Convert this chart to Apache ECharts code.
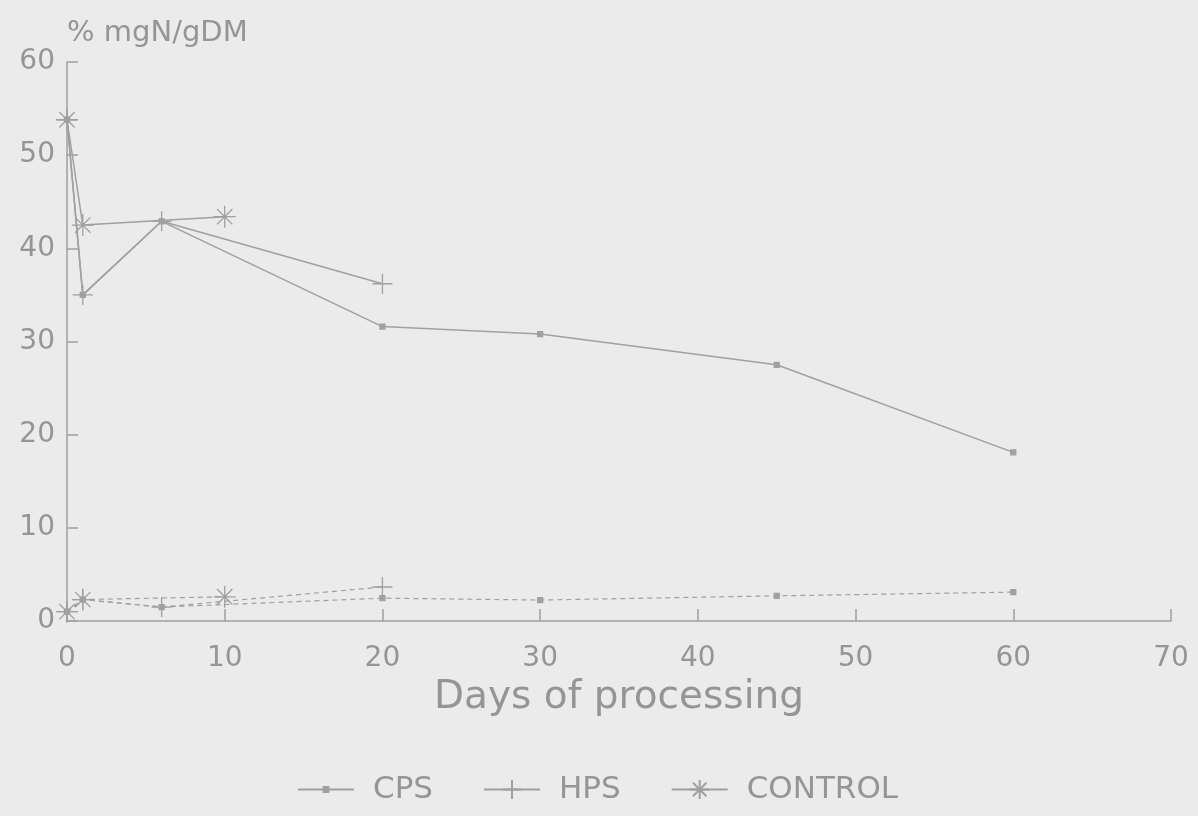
<!DOCTYPE html>
<html>
<head>
<meta charset="utf-8">
<script src="https://cdn.jsdelivr.net/npm/echarts@6/dist/echarts.min.js"></script>
<style>
html,body{margin:0;padding:0;background:#ebebeb;}
#chart{width:1198px;height:816px;}
</style>
</head>
<body>
<div id="chart"></div>
<script>
// ---- data ----
const seriesNames = ['CPS', 'HPS', 'CONTROL'];
const xTicks = [0, 10, 20, 30, 40, 50, 60, 70];
const yTicks = [0, 10, 20, 30, 40, 50, 60];

const daysCPS = [0, 1, 6, 20, 30, 45, 60];
const cpsUpper = [53.8, 35.0, 42.9, 31.6, 30.8, 27.5, 18.1];
const cpsLower = [1.0, 2.3, 1.5, 2.45, 2.25, 2.7, 3.1];

const daysHPS = [0, 1, 6, 20];
const hpsUpper = [53.8, 35.0, 42.9, 36.2];
const hpsLower = [1.0, 2.3, 1.5, 3.65];

const daysControl = [0, 1, 10];
const controlUpper = [53.8, 42.5, 43.4];
const controlLower = [1.0, 2.3, 2.6];

// ---- styles ----
const LINE = '#a0a0a0';
const TEXT = '#959595';
const FONT = 'DejaVu Sans';

const symSquare = 'path://M0,0 M20,20 M7.5,7.5 L12.5,7.5 L12.5,12.5 L7.5,12.5 Z';
const symPlus = 'path://M0,10 L20,10 M10,0 L10,20';
const symStar = 'path://M0,10 L20,10 M10,0 L10,20 M3,3 L17,17 M17,3 L3,17';

function pairs(xs, ys) { return xs.map((x, i) => [x, ys[i]]); }

function mk(name, xs, ys, symbol, size, dashed) {
  return {
    name: name,
    type: 'line',
    data: pairs(xs, ys),
    symbol: symbol,
    symbolSize: size,
    showAllSymbol: true,
    lineStyle: { color: LINE, width: dashed ? 1.2 : 1.5, type: dashed ? [5, 4] : 'solid' },
    itemStyle: { color: LINE, borderColor: LINE, borderWidth: 1.3 },
    emphasis: { disabled: true }
  };
}

const chart = echarts.init(document.getElementById('chart'), null, { renderer: 'canvas' });
chart.setOption({
  animation: false,
  backgroundColor: '#ebebeb',
  textStyle: { fontFamily: FONT },
  grid: { left: 67, right: 27, top: 62, bottom: 195, containLabel: false },
  legend: {
    data: seriesNames,
    left: 292,
    top: 769,
    itemWidth: 56,
    itemHeight: 24,
    itemGap: 50,
    textStyle: { color: TEXT, fontSize: 31, fontFamily: FONT, padding: [0, 0, 0, 14] }
  },
  xAxis: {
    type: 'value',
    min: 0, max: 70, interval: 10,
    name: 'Days of processing',
    nameLocation: 'middle',
    nameGap: 48,
    nameTextStyle: { color: TEXT, fontSize: 39, fontFamily: FONT },
    axisLine: { show: true, lineStyle: { color: LINE, width: 1.5 } },
    axisTick: { show: true, inside: true, length: 12, lineStyle: { color: LINE, width: 1.5 } },
    axisLabel: { color: TEXT, fontSize: 28, fontFamily: FONT, margin: 24,
      formatter: v => xTicks.includes(v) ? String(v) : '' },
    splitLine: { show: false }
  },
  yAxis: {
    type: 'value',
    min: 0, max: 60, interval: 10,
    name: '% mgN/gDM',
    nameLocation: 'end',
    nameGap: 29,
    nameTextStyle: { color: TEXT, fontSize: 29, fontFamily: FONT, align: 'left', verticalAlign: 'middle' },
    axisLine: { show: true, lineStyle: { color: LINE, width: 1.5 } },
    axisTick: { show: true, inside: true, length: 11, lineStyle: { color: LINE, width: 1.5 } },
    axisLabel: { color: TEXT, fontSize: 28, fontFamily: FONT, margin: 12,
      formatter: v => yTicks.includes(v) ? String(v) : '' },
    splitLine: { show: false }
  },
  series: [
    mk('CPS', daysCPS, cpsUpper, symSquare, 20, false),
    mk('HPS', daysHPS, hpsUpper, symPlus, 20, false),
    mk('CONTROL', daysControl, controlUpper, symStar, 22, false),
    mk('CPS', daysCPS, cpsLower, symSquare, 20, true),
    mk('HPS', daysHPS, hpsLower, symPlus, 20, true),
    mk('CONTROL', daysControl, controlLower, symStar, 22, true)
  ]
});
</script>
</body>
</html>
